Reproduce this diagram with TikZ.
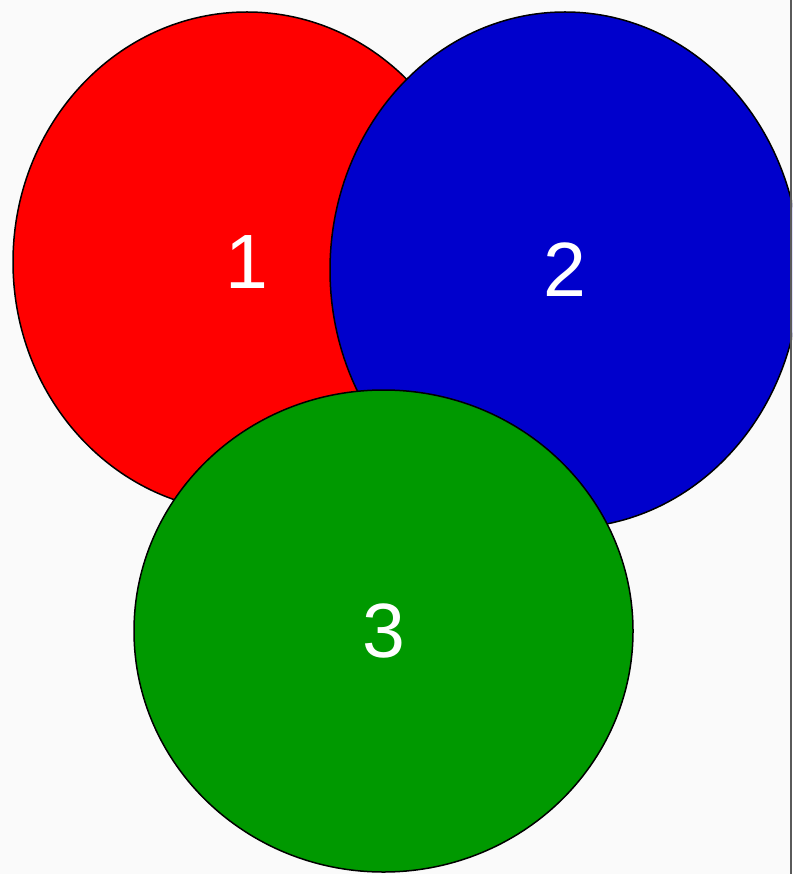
\documentclass[tikz,border=0pt]{standalone}
\usepackage{fontspec}
\setmainfont{Liberation Sans}
\usetikzlibrary{shapes.geometric}
\definecolor{bgc}{RGB}{250,250,250}
\definecolor{cred}{RGB}{255,0,0}
\definecolor{cblue}{RGB}{0,0,204}
\definecolor{cgreen}{RGB}{0,153,0}
\definecolor{edgec}{RGB}{90,90,90}
\begin{document}
\begin{tikzpicture}[x=1pt,y=-1pt,
  blob/.style={ellipse, draw=black, line width=1.5pt, inner sep=0pt,
    text=white, font=\fontsize{77}{77}\selectfont}]
\useasboundingbox (0,0) rectangle (792,874);
\clip (0,0) rectangle (792,874);
\fill[bgc] (0,0) rectangle (792,874);
\node[blob, fill=cred, minimum width=468pt, minimum height=500pt] (one) at (247,262) {1};
\node[blob, fill=cblue, minimum width=470pt, minimum height=516pt] (two) at (565,270) {2};
\node[blob, fill=cgreen, minimum width=499pt, minimum height=482pt] (three) at (383.5,631) {3};
\coordinate (rt) at (791,0);
\coordinate (rb) at (791,874);
\draw[edgec, line width=1.5pt] (rt) -- (rb);
\end{tikzpicture}
\end{document}
